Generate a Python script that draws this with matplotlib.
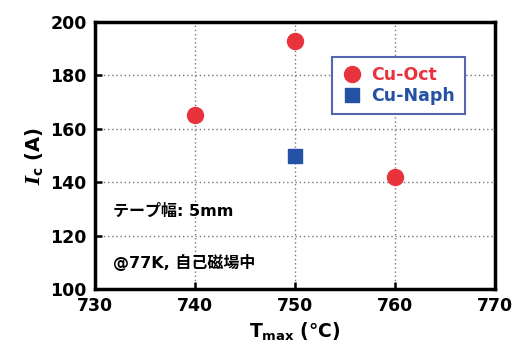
import matplotlib
matplotlib.use("Agg")
import matplotlib.pyplot as plt

plt.rcParams['font.family'] = ['DejaVu Sans', 'Noto Sans CJK JP']
plt.rcParams['mathtext.fontset'] = 'custom'
plt.rcParams['mathtext.it'] = 'DejaVu Serif:italic:bold'
plt.rcParams['mathtext.rm'] = 'DejaVu Sans:bold'
plt.rcParams['mathtext.bf'] = 'DejaVu Sans:bold'

oct_x = [740, 750, 760]
oct_y = [165, 193, 142]
naph_x = [750]
naph_y = [150]
xticks = [730, 740, 750, 760, 770]
yticks = [100, 120, 140, 160, 180, 200]

fig = plt.figure(figsize=(5.13, 3.47), dpi=100)
ax = fig.add_axes([95/513, 1-289/347, 400/513, 267/347])

ax.plot(oct_x, oct_y, 'o', color='#E8323C', markersize=11.5, label='Cu-Oct', zorder=3)
ax.plot(naph_x, naph_y, 's', color='#2352A5', markersize=10, label='Cu-Naph', zorder=3)

ax.set_xlim(730, 770)
ax.set_ylim(100, 200)
ax.set_xticks(xticks)
ax.set_yticks(yticks)
ax.tick_params(direction='in', length=5, width=1.8, labelsize=12.5, pad=6)
for lbl in ax.get_xticklabels() + ax.get_yticklabels():
    lbl.set_fontweight('bold')
for s in ax.spines.values():
    s.set_linewidth(2.5)
ax.grid(True, linestyle=(0, (1, 2)), color='#777777', linewidth=1)
ax.set_axisbelow(True)

ax.set_xlabel(r'T$_{\mathrm{max}}$ (℃)', fontsize=13.5, fontweight='bold', labelpad=3)
ax.set_ylabel(r'$I_{\mathrm{c}}$ (A)', fontsize=14, fontweight='bold', labelpad=4)

ax.text(0.045, 0.29, 'テープ幅: 5mm', transform=ax.transAxes, fontsize=11.5,
        fontweight='bold', va='center')
ax.text(0.045, 0.10, '@77K, 自己磁場中', transform=ax.transAxes, fontsize=11.5,
        fontweight='bold', va='center')

leg = ax.legend(loc='upper left', bbox_to_anchor=(0.593, 0.87), fancybox=False,
                framealpha=1, edgecolor='#5566B0', fontsize=12.5, handletextpad=0.5,
                borderpad=0.55, labelspacing=0.15, handlelength=1.2, borderaxespad=0)
leg.get_frame().set_linewidth(1.5)
for t, c in zip(leg.get_texts(), ['#E8323C', '#2352A5']):
    t.set_color(c)
    t.set_fontweight('bold')

fig.savefig('out.png', dpi=100)
